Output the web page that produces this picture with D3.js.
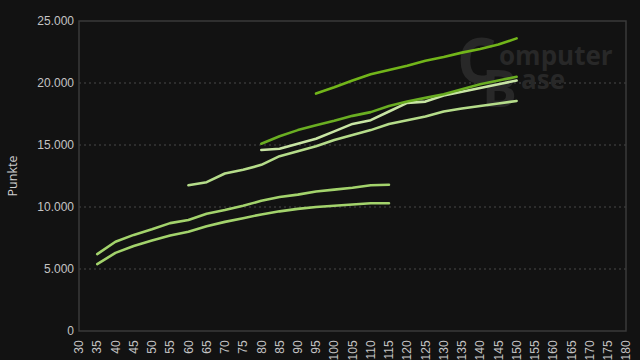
<!DOCTYPE html>
<html lang="de">
<head>
  <meta charset="UTF-8">
  <title>Punkte</title>
  <style>
    html, body { margin: 0; padding: 0; background: #121212; }
    svg { display: block; font-family: "Open Sans", sans-serif; }
    .axis text { fill: #c4c4c4; font-size: 12px; }
    .line { fill: none; stroke-width: 2.6px; stroke-linejoin: round; stroke-linecap: round; }
  </style>
</head>
<body>
  <svg id="chart"></svg>

  <script src="https://d3js.org/d3.v7.min.js"></script>
  <script>
    // x values per series
    const xA = [35, 40, 45, 50, 55, 60, 65, 70, 75, 80, 85, 90, 95, 100, 105, 110, 115];
    const xC = [60, 65, 70, 75, 80, 85, 90, 95, 100, 105, 110, 115, 120, 125, 130, 135, 140, 145, 150];
    const xD = [80, 85, 90, 95, 100, 105, 110, 115, 120, 125, 130, 135, 140, 145, 150];
    const xF = [95, 100, 105, 110, 115, 120, 125, 130, 135, 140, 145, 150];

    const serieA = [5400, 6300, 6850, 7300, 7700, 8000, 8450, 8800, 9100, 9400, 9650, 9850, 10000, 10100, 10200, 10300, 10300];
    const serieB = [6200, 7200, 7750, 8200, 8700, 8950, 9450, 9750, 10100, 10500, 10800, 11000, 11250, 11400, 11550, 11750, 11800];
    const serieC = [11750, 12000, 12700, 13000, 13400, 14100, 14500, 14900, 15400, 15800, 16200, 16700, 17000, 17300, 17700, 17950, 18150, 18350, 18550];
    const serieD = [14600, 14700, 15100, 15500, 16100, 16700, 17000, 17700, 18400, 18500, 19000, 19300, 19600, 19900, 20200];
    const serieE = [15100, 15700, 16200, 16600, 16950, 17350, 17650, 18150, 18500, 18800, 19100, 19500, 19900, 20200, 20500];
    const serieF = [19150, 19650, 20200, 20700, 21050, 21400, 21800, 22100, 22450, 22750, 23100, 23600];

    const xTicks = d3.range(30, 181, 5);
    const yTicks = [0, 5000, 10000, 15000, 20000, 25000];

    const series = [
      { xs: xA, ys: serieA, color: "#a3d36c" },
      { xs: xA, ys: serieB, color: "#a3d36c" },
      { xs: xC, ys: serieC, color: "#b5dc8a" },
      { xs: xD, ys: serieD, color: "#c8e5a4" },
      { xs: xD, ys: serieE, color: "#6aae22" },
      { xs: xF, ys: serieF, color: "#72b51a" }
    ];

    const W = 640, H = 360;
    const m = { top: 21, right: 14, bottom: 29, left: 79 };
    const iw = W - m.left - m.right, ih = H - m.top - m.bottom;

    const svg = d3.select("#chart").attr("width", W).attr("height", H);
    svg.append("rect").attr("width", W).attr("height", H).attr("fill", "#121212");

    const g = svg.append("g").attr("transform", `translate(${m.left},${m.top})`);

    const x = d3.scaleLinear().domain([30, 180]).range([0, iw]);
    const y = d3.scaleLinear().domain([0, 25000]).range([ih, 0]);

    // grid
    g.selectAll(".grid").data(yTicks.filter(d => d > 0 && d < 25000)).enter()
      .append("line")
      .attr("x1", 0).attr("x2", iw)
      .attr("y1", d => y(d)).attr("y2", d => y(d))
      .attr("stroke", "#484848").attr("stroke-width", 1)
      .attr("stroke-dasharray", "2,3");

    // frame
    g.append("rect").attr("width", iw).attr("height", ih)
      .attr("fill", "none").attr("stroke", "#3a3a3a").attr("stroke-width", 1.5);

    // watermark (one text element)
    const wm = g.append("text").attr("fill", "#282828").attr("font-weight", "bold");
    wm.append("tspan").attr("x", 378).attr("y", 62).attr("font-size", 62).text("C");
    wm.append("tspan").attr("x", 420).attr("y", 44).attr("font-size", 26).text("omputer");
    wm.append("tspan").attr("x", 403).attr("y", 86).attr("font-size", 52).text("B");
    wm.append("tspan").attr("x", 442).attr("y", 68).attr("font-size", 26).text("ase");

    // axes
    const xAxis = g.append("g").attr("class", "axis")
      .attr("transform", `translate(0,${ih})`)
      .call(d3.axisBottom(x).tickValues(xTicks).tickSize(0).tickFormat(d3.format("d")));
    xAxis.select(".domain").remove();
    xAxis.selectAll("text")
      .attr("transform", "rotate(-90)")
      .attr("text-anchor", "end")
      .attr("dx", "-0.45em")
      .attr("dy", "0.35em")
      .attr("x", 0).attr("y", 0);
    xAxis.selectAll(".tick").attr("transform", d => `translate(${x(d)},4)`);

    const yAxis = g.append("g").attr("class", "axis")
      .call(d3.axisLeft(y).tickValues(yTicks).tickSize(0).tickPadding(5)
        .tickFormat(d => d3.format(",")(d).replace(/,/g, ".")));
    yAxis.select(".domain").remove();

    svg.append("text")
      .attr("transform", `translate(17,${m.top + ih / 2}) rotate(-90)`)
      .attr("text-anchor", "middle")
      .attr("fill", "#d0d0d0")
      .attr("font-size", 12.5)
      .text("Punkte");

    // lines
    const line = d3.line().x(d => x(d[0])).y(d => y(d[1]));
    series.forEach(s => {
      g.append("path")
        .attr("class", "line")
        .attr("stroke", s.color)
        .attr("d", line(s.xs.map((v, i) => [v, s.ys[i]])));
    });
  </script>
</body>
</html>
